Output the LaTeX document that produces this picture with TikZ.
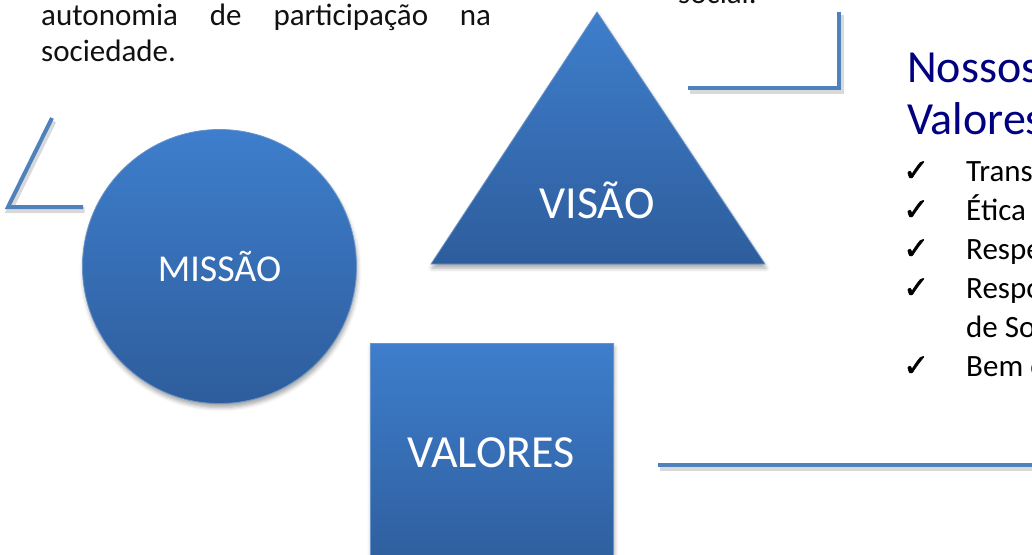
\documentclass[tikz,border=0pt]{standalone}
\usepackage{fontspec}
\setmainfont{Carlito}
\newfontfamily\dejavu[FakeBold=1.6]{DejaVu Sans}
\usetikzlibrary{shadows.blur}
\definecolor{lineblue}{HTML}{4F81BD}
\definecolor{shtop}{HTML}{3E7ECC}
\definecolor{shbot}{HTML}{2E5D9C}
\definecolor{navyc}{RGB}{0,0,128}
\definecolor{txt}{HTML}{111111}
\begin{document}
\begin{tikzpicture}[x=1pt,y=-1pt,
  conn/.style={lineblue, line width=4pt},
  connshadow/.style={black, opacity=0.15, line width=6pt, transform canvas={xshift=1.5pt, yshift=-3pt}},
  shapefill/.style={top color=shtop, bottom color=shbot, draw=lineblue!85!white, line width=0.8pt},
  shshadow/.style={blur shadow={shadow xshift=1pt, shadow yshift=-4pt, shadow blur radius=4pt, shadow opacity=35}},
  lbl/.style={white, anchor=base, inner sep=0pt},
  body/.style={txt, anchor=base west, inner sep=0pt, font=\fontsize{31}{31}\selectfont},
  item/.style={black, anchor=base west, inner sep=0pt, font=\fontsize{31}{31}\selectfont},
  chk/.style={black, anchor=base west, inner sep=0pt, font=\dejavu\fontsize{31}{31}\selectfont},
  ttl/.style={navyc, anchor=base west, inner sep=0pt, font=\fontsize{46}{46}\selectfont}
]
\useasboundingbox (0,0) rectangle (1032,554);
\clip (0,0) rectangle (1032,554);

% texts at top
\node[body] (t1) at (41,25) {\makebox[450pt][s]{autonomia\hfill de\hfill participação\hfill na}};
\node[body] (t2) at (41,61) {sociedade.};
\node[body] (t3) at (678,4) {social.};

% connector coordinates
\coordinate (a1) at (52,118);
\coordinate (a2) at (8,207);
\coordinate (a3) at (83,207);
\coordinate (b1) at (839,12);
\coordinate (b2) at (839,88);
\coordinate (b3) at (688,88);
\coordinate (c1) at (658,465);
\coordinate (c2) at (1035,465);
\coordinate (c3) at (1035,420);

\draw[connshadow] (a1) -- (a2) -- (a3);
\draw[connshadow] (b1) -- (b2) -- (b3);
\draw[connshadow] (c1) -- (c2) -- (c3);
\draw[conn] (a1) -- (a2) -- (a3);
\draw[conn] (b1) -- (b2) -- (b3);
\draw[conn] (c1) -- (c2) -- (c3);

% shapes
\node[circle, minimum size=274pt, inner sep=0pt, shapefill, shshadow] (missao) at (219.5,266.5) {};
\path[shapefill, shshadow] (597,12) coordinate (vtop) -- (431,264) coordinate (vl) -- (765,264) coordinate (vr) -- cycle;
\node[rectangle, minimum width=243pt, minimum height=230pt, inner sep=0pt, anchor=north west, shapefill, shshadow] (valbox) at (370,343) {};

\node[lbl, font=\fontsize{38}{38}\selectfont] (lm) at (219.5,281) {MISSÃO};
\node[lbl, font=\fontsize{46}{46}\selectfont] (lv) at (597,218) {VISÃO};
\node[lbl, font=\fontsize{46}{46}\selectfont] (lval) at (491,467) {VALORES};

% right column
\node[ttl] (n1) at (907,82) {Nossos};
\node[ttl] (n2) at (907,134) {Valores};

\node[chk] (k1) at (903,181) {✓};
\node[item] (i1) at (966,181) {Transparência};
\node[chk] (k2) at (903,220) {✓};
\node[item] (i2) at (966,220) {Ética};
\node[chk] (k3) at (903,259) {✓};
\node[item] (i3) at (966,259) {Respeito};
\node[chk] (k4) at (903,298) {✓};
\node[item] (i4) at (966,298) {Responsabilidade};
\node[item] (i5) at (966,337) {de Social};
\node[chk] (k6) at (903,376) {✓};
\node[item] (i6) at (966,376) {Bem comum};
\end{tikzpicture}
\end{document}
